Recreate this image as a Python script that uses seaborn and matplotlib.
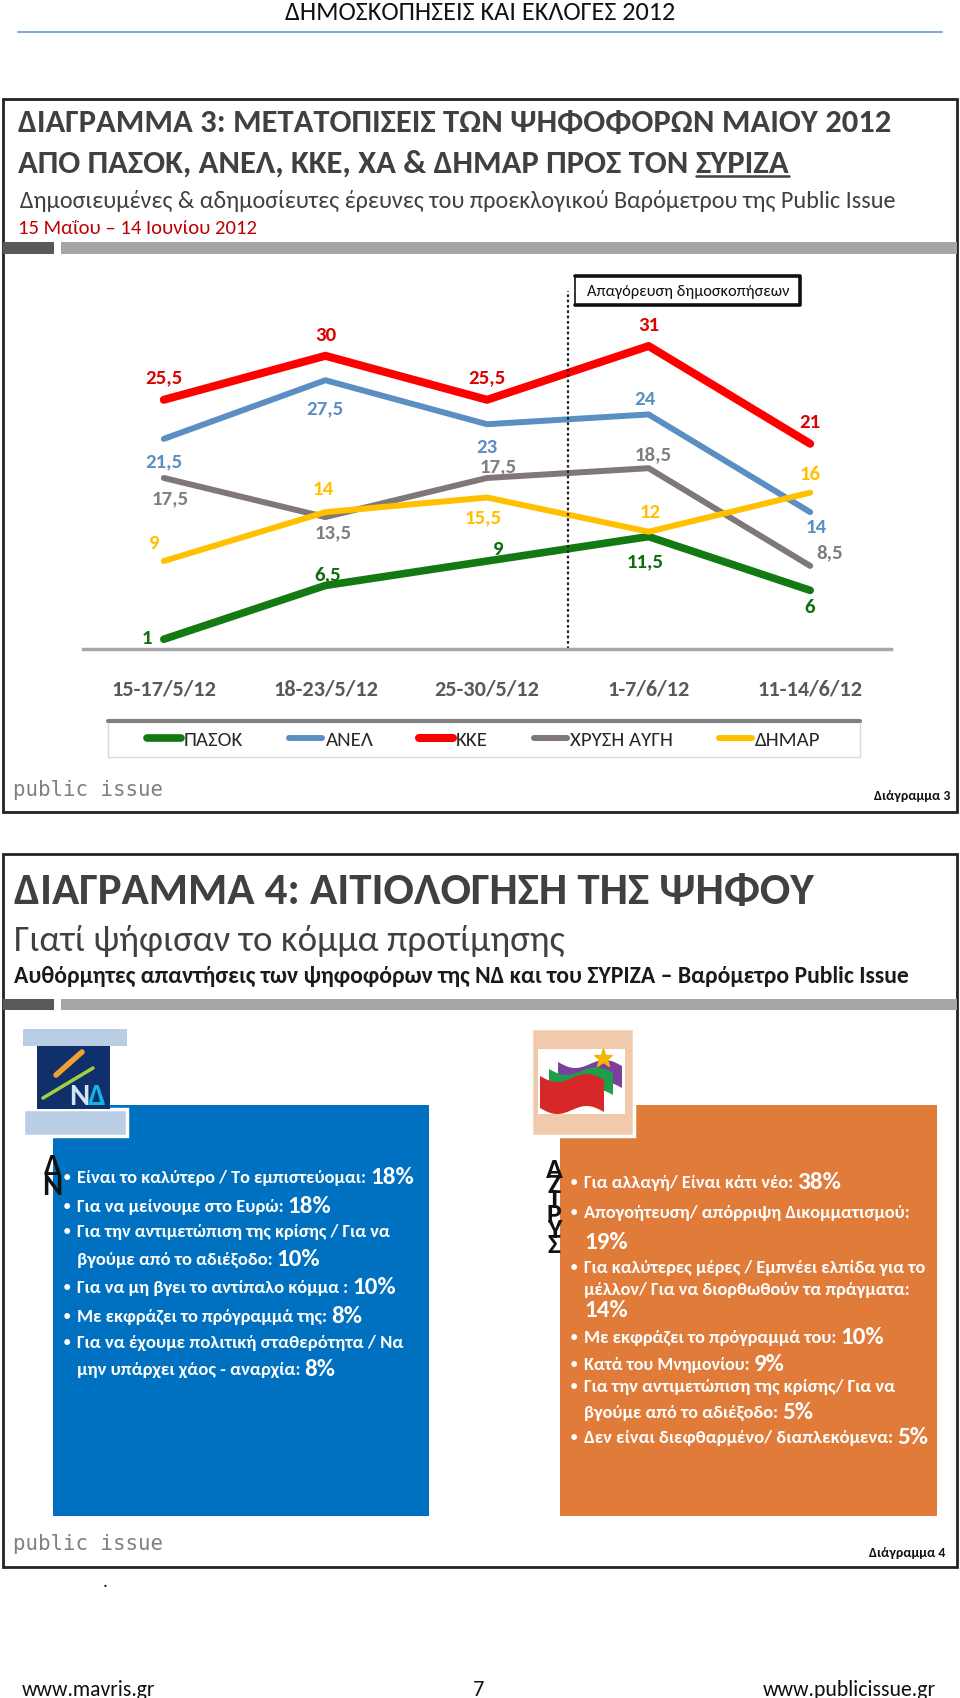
import numpy as np
import pandas as pd
import seaborn as sns
import matplotlib.pyplot as plt
from matplotlib.patches import Rectangle

# ---- Διάγραμμα 3: μετατοπίσεις ψηφοφόρων (%)
periods = ['15-17/5/12', '18-23/5/12', '25-30/5/12', '1-7/6/12', '11-14/6/12']
parties = ['ΠΑΣΟΚ', 'ΑΝΕΛ', 'ΚΚΕ', 'ΧΡΥΣΗ ΑΥΓΗ', 'ΔΗΜΑΡ']
pasok = [1, 6.5, 9, 11.5, 6]
anel = [21.5, 27.5, 23, 24, 14]
kke = [25.5, 30, 25.5, 31, 21]
xa = [17.5, 13.5, 17.5, 18.5, 8.5]
dimar = [9, 14, 15.5, 12, 16]
ban_starts = '1-7/6/12'

# ---- Διάγραμμα 4: αιτιολόγηση ψήφου
nd_items = [
    (['Είναι το καλύτερο / Το εμπιστεύομαι:'], '18%'),
    (['Για να μείνουμε στο Ευρώ:'], '18%'),
    (['Για την αντιμετώπιση της κρίσης / Για να', 'βγούμε από το αδιέξοδο:'], '10%'),
    (['Για να μη βγει το αντίπαλο κόμμα :'], '10%'),
    (['Με εκφράζει το πρόγραμμά της:'], '8%'),
    (['Για να έχουμε πολιτική σταθερότητα / Να', 'μην υπάρχει χάος - αναρχία:'], '8%'),
]
syriza_items = [
    (['Για αλλαγή/ Είναι κάτι νέο:'], '38%'),
    (['Απογοήτευση/ απόρριψη Δικομματισμού:', ''], '19%'),
    (['Για καλύτερες μέρες / Εμπνέει ελπίδα για το',
      'μέλλον/ Για να διορθωθούν τα πράγματα:', ''], '14%'),
    (['Με εκφράζει το πρόγραμμά του:'], '10%'),
    (['Κατά του Μνημονίου:'], '9%'),
    (['Για την αντιμετώπιση της κρίσης/ Για να', 'βγούμε από το αδιέξοδο:'], '5%'),
    (['Δεν είναι διεφθαρμένο/ διαπλεκόμενα:'], '5%'),
]

# styles / layout (pixels on a 960x1699 page)
colors = ['#137A13', '#5B8FC3', '#FF0000', '#7F7778', '#FFC000']
label_colors = ['#0E6E0E', '#5B8FC3', '#E00000', '#7F7F7F', '#FFC000']
widths = [5.5, 4.3, 5.8, 4.3, 4.3]
label_off = [
    [(-17, -2), (2, -12), (11, -13), (-3, 24), (-1, 16)],
    [(0, 22), (0, 27), (0, 22), (-4, -16), (6, 14)],
    [(0, -23), (0, -21), (0, -23), (0, -22), (0, -22)],
    [(6, 20), (8, 15), (11, -12), (5, -14), (19, -14)],
    [(-10, -19), (-2, -24), (-4, 19), (2, -20), (0, -19)],
]
nd_y = [1178, 1207, 1232, 1260, 1288, 1317, 1343, 1370]
nd_w = [288, 206, 313, 195, 271, 250, 326, 223]
sy_y = [1183, 1213, 1243, 1268, 1290, 1311, 1338, 1365, 1387, 1413, 1438]
sy_w = [209, 324, 0, 341, 326, 0, 251, 166, 311, 194, 308]

W, H = 960, 1699

sns.set_style('white')
FAM = ['Carlito', 'DejaVu Sans']
plt.rcParams['font.family'] = FAM

fig = plt.figure(figsize=(W / 100, H / 100), dpi=100)
R = fig.canvas.get_renderer()
bg = fig.add_axes([0, 0, 1, 1])
bg.set_xlim(0, W)
bg.set_ylim(H, 0)
bg.axis('off')


def put(x, y, s, size, width=None, cap=1.3, **kw):
    kw.setdefault('va', 'center')
    kw.setdefault('family', FAM)
    t = bg.text(x, y, s, fontsize=size, **kw)
    if width and s:
        w = t.get_window_extent(R).width
        t.set_fontsize(min(size * width / w, size * cap))
    return t


def rect(x0, y0, x1, y1, **kw):
    bg.add_patch(Rectangle((x0, y0), x1 - x0, y1 - y0, **kw))


# ---- page header
put(480, 13, 'ΔΗΜΟΣΚΟΠΗΣΕΙΣ ΚΑΙ ΕΚΛΟΓΕΣ 2012', 15, 394, ha='center', color='#111111')
bg.plot([18, 942], [33, 33], color='#7BA0CD', lw=1.3)

# ---- box 1
rect(3, 100, 957, 813, fill=False, ec='#222222', lw=2)
t1 = put(18, 123, 'ΔΙΑΓΡΑΜΜΑ 3: ΜΕΤΑΤΟΠΙΣΕΙΣ ΤΩΝ ΨΗΦΟΦΟΡΩΝ ΜΑΙΟΥ 2012', 21, 872,
         weight='bold', color='#404040')
t2 = put(18, 164, 'ΑΠΟ ΠΑΣΟΚ, ΑΝΕΛ, ΚΚΕ, ΧΑ & ΔΗΜΑΡ ΠΡΟΣ ΤΟΝ ', t1.get_fontsize(),
         weight='bold', color='#404040')
e2 = t2.get_window_extent(R)
t2b = put(e2.x1, 164, 'ΣΥΡΙΖΑ', t1.get_fontsize(), weight='bold', color='#404040')
e2b = t2b.get_window_extent(R)
bg.plot([e2b.x0, e2b.x1], [177, 177], color='#404040', lw=1.8)
put(20, 201, 'Δημοσιευμένες & αδημοσίευτες έρευνες του προεκλογικού Βαρόμετρου της Public Issue',
    14, 880, color='#404040')
put(18, 228, '15 Μαΐου – 14 Ιουνίου 2012', 13, 239, color='#C00000')
rect(3, 243, 54, 255, color='#595959', lw=0)
rect(61, 243, 957, 255, color='#A6A6A6', lw=0)

# ---- line chart
ax = fig.add_axes([83 / W, 1 - 650 / H, 808 / W, 388 / H])
ax.patch.set_alpha(0)
df = pd.DataFrame({'period': periods * len(parties),
                   'party': np.repeat(parties, len(periods)),
                   'value': pasok + anel + kke + xa + dimar})
for i, party in enumerate(parties):
    sub = df[df['party'] == party]
    sns.lineplot(data=sub, x='period', y='value', color=colors[i], lw=widths[i],
                 label=party, sort=False, ax=ax)
    for j, (p, v) in enumerate(zip(sub['period'], sub['value'])):
        dx, dy = label_off[i][j]
        ax.annotate(f'{v:g}'.replace('.', ','), (j, v), xytext=(dx, -dy),
                    textcoords='offset pixels', ha='center', va='center',
                    fontsize=15, weight='bold', color=label_colors[i])

ax.set_xlim(-0.5, len(periods) - 0.5)
ax.set_ylim(0, 39.7)
ax.set_xlabel('')
ax.set_ylabel('')
ax.set_yticks([])
for s in ['left', 'right', 'top']:
    ax.spines[s].set_visible(False)
ax.spines['bottom'].set_color('#A6A6A6')
ax.spines['bottom'].set_linewidth(2.5)
ax.set_xticks(range(len(periods)))
ax.set_xticklabels(periods, fontsize=16, weight='bold', color='#595959')
ax.set_xticks(np.arange(-0.5, len(periods)), minor=True)
ax.tick_params(axis='x', which='major', length=0, pad=21)
ax.tick_params(axis='x', which='minor', length=7, width=1, color='#D0D0D0')

split = periods.index(ban_starts) - 0.5
ax.axvline(split, ymin=0, ymax=(650 - 292) / 388, color='#222222', lw=1.6, ls=(0, (1.2, 1.2)))

leg = ax.legend(loc='center', bbox_to_anchor=(484 / W, 1 - 740 / H),
                bbox_transform=fig.transFigure, ncol=5, frameon=False,
                handlelength=1.6, handletextpad=0.15, columnspacing=2.2,
                prop={'size': 15}, labelcolor='#262626')
rect(108, 722, 860, 758, fill=False, ec='#D9D9D9', lw=1)
bg.plot([108, 860], [722, 722], color='#808080', lw=3, zorder=5)

# ban box
rect(575, 277, 800, 306, fc='white', ec='#111111', lw=1.2, zorder=3)
bg.plot([575, 800, 800, 575], [277, 277, 306, 306], color='#111111', lw=2.6, zorder=4)
put(688, 292, 'Απαγόρευση δημοσκοπήσεων', 11, 202, ha='center', color='#111111', zorder=5)

put(13, 790, 'public issue', 17, 150, family='DejaVu Sans Mono', color='#808080')
put(950, 796, 'Διάγραμμα 3', 10, ha='right', weight='bold', color='#111111')

# ---- box 2
rect(3, 855, 957, 1568, fill=False, ec='#222222', lw=2)
put(14, 892, 'ΔΙΑΓΡΑΜΜΑ 4: ΑΙΤΙΟΛΟΓΗΣΗ ΤΗΣ ΨΗΦΟΥ', 27, 840, cap=1.2, weight='bold', color='#404040')
put(14, 941, 'Γιατί ψήφισαν το κόμμα προτίμησης', 22, 551, color='#404040')
put(14, 977, 'Αυθόρμητες απαντήσεις των ψηφοφόρων της ΝΔ και του ΣΥΡΙΖΑ – Βαρόμετρο Public Issue',
    14, 899, weight='bold', color='#1A1A1A')
rect(3, 1000, 54, 1011, color='#595959', lw=0)
rect(61, 1000, 957, 1011, color='#A6A6A6', lw=0)

# stacked party names, mostly hidden behind the boxes
put(52, 1154, 'Δ\nΝ', 22, ha='center', va='top', weight='bold', color='#111111', linespacing=0.72)
put(554, 1158, 'Α\nΖ\nΙ\nΡ\nΥ\nΣ', 20, ha='center', va='top', weight='bold',
    color='#111111', linespacing=0.55)

# ND logo + box
rect(53, 1106, 429, 1517, color='#0070C0', lw=0, zorder=2)
rect(23, 1030, 127, 1047, color='#B9CDE5', lw=0, zorder=3)
rect(23, 1110, 127, 1137, fc='#B9CDE5', ec='white', lw=2.5, zorder=3)
rect(37, 1047, 110, 1110, color='#10306B', lw=0, zorder=3)
bg.plot([56, 82], [1076, 1053], color='#F0A030', lw=4, zorder=4, solid_capstyle='round')
bg.plot([43, 93], [1099, 1069], color='#A5CF3C', lw=2.5, zorder=4, solid_capstyle='round')
put(79, 1097, 'Ν', 22, ha='center', weight='bold', color='#D0E4F5', zorder=4)
put(97, 1097, 'Δ', 22, ha='center', weight='bold', color='#12B5EA', zorder=4)

# SYRIZA logo + box
rect(560, 1106, 937, 1517, color='#E07B39', lw=0, zorder=2)
rect(531, 1029, 634, 1137, fc='#F1CAAE', ec='white', lw=2.5, zorder=3)
rect(538, 1050, 625, 1115, color='white', lw=0, zorder=3)
xs = np.linspace(0, 1, 30)
wave = 5 * np.sin(xs * 2 * np.pi)
for k, (c, h) in enumerate([('#7B3F9E', 22), ('#1E9E4A', 22), ('#D62828', 32)]):
    x0, y0 = 558 - 9 * k, 1063 + 7 * k
    xx = x0 + xs * 64
    top = y0 + wave + xs * 4
    bg.fill(np.r_[xx, xx[::-1]], np.r_[top, (top + h)[::-1]], color=c, lw=0, zorder=4)
bg.plot([603], [1059], marker='*', ms=14, color='#F2B600', zorder=5)


def bullets(items, x, ys, ws, pct_size):
    n = 0
    for lines, pct in items:
        for k, line in enumerate(lines):
            y = ys[n]
            if k == 0:
                put(x - 10, y, '•', 12, ha='center', color='white', zorder=5)
            if line:
                t = put(x, y, line, 13, ws[n], cap=1.15, weight='bold', color='white', zorder=5)
                end = t.get_window_extent(R).x1 + 4
            else:
                end = x
            if k == len(lines) - 1:
                put(end, y, pct, pct_size, weight='bold', color='white', zorder=5)
            n += 1


bullets(nd_items, 77, nd_y, nd_w, 18)
bullets(syriza_items, 584, sy_y, sy_w, 18)

put(13, 1544, 'public issue', 17, 150, family='DejaVu Sans Mono', color='#808080')
put(945, 1553, 'Διάγραμμα 4', 10, ha='right', weight='bold', color='#111111')
put(105, 1582, '.', 14, ha='center', color='#111111')

# ---- footer
put(22, 1690, 'www.mavris.gr', 16, 133, color='#111111')
put(479, 1690, '7', 16, ha='center', color='#111111')
put(936, 1690, 'www.publicissue.gr', 16, 174, ha='right', color='#111111')

fig.savefig('out.png', dpi=100)
